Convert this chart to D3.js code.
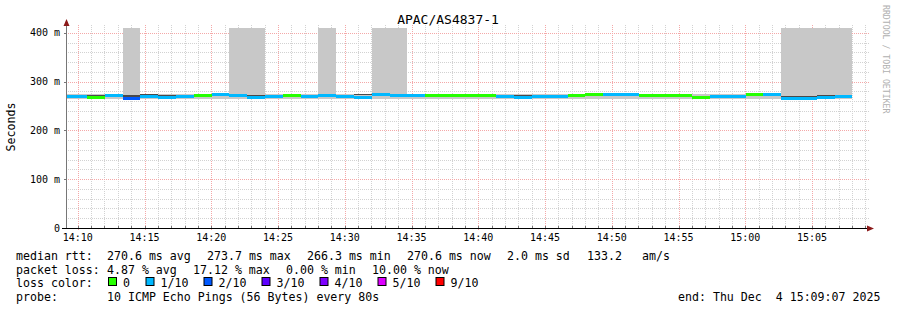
<!DOCTYPE html>
<html>
<head>
<meta charset="utf-8">
<script src="https://cdn.jsdelivr.net/npm/d3@7"></script>
<style>
  body { margin: 0; background: #fff; }
  text { font-family: "DejaVu Sans Mono", monospace; fill: #000; white-space: pre; }
</style>
</head>
<body>
<svg id="chart" width="897" height="310"></svg>
<script>
// ---- data ----
var title = "APAC/AS4837-1";
var startTime = new Date(2025, 11, 4, 14, 9, 7);
var endTime = new Date(2025, 11, 4, 15, 9, 7);
var firstStep = new Date(2025, 11, 4, 14, 9, 7);
var stepSeconds = 80;

// median rtt per 80s step (ms)
var median = [270.6, 268.2, 271.0, 266.3, 270.0, 266.6, 269.4, 272.6, 273.4, 272.4,
              268.0, 270.2, 272.6, 270.4, 271.0, 268.6, 268.0, 273.6, 272.0, 271.0,
              271.6, 271.0, 271.2, 271.6, 268.6, 268.0, 270.6, 269.0, 271.4, 273.5,
              273.6, 273.6, 272.0, 271.0, 271.0, 267.7, 270.6, 270.6, 273.0, 273.0,
              266.3, 266.5, 267.7, 270.6];
// lost pings out of 10
var loss = [1, 0, 1, 2, 1, 1, 1, 0, 1, 1,
            1, 1, 0, 1, 1, 1, 1, 1, 1, 1,
            0, 0, 0, 0, 1, 1, 1, 1, 0, 0,
            1, 1, 0, 0, 0, 0, 1, 1, 0, 1,
            1, 1, 1, 1];
// outer smoke (ms)
var smokeLo = [264, 264, 264.5, 264, 264, 264, 264.5, 265, 265, 265,
               264.5, 264.5, 265, 263.5, 265, 264.5, 264.5, 265, 265, 265,
               265, 265, 264, 265, 264.5, 264.5, 264.5, 263.5, 265, 265,
               265, 265, 265, 265, 265, 265, 265, 265, 265, 265,
               264, 264, 264, 264.5];
var smokeHi = [275, 275, 275, 420, 275, 275, 275, 275, 275.5, 420,
               420, 275, 275, 275, 420, 275, 275.5, 420, 420, 275,
               275, 275.5, 275, 275, 275, 275, 275, 275, 275, 275.5,
               275.5, 275.5, 275, 275, 275.5, 275, 275, 275, 275.5, 275.5,
               420, 420, 420, 420];
// dense inner smoke (ms)
var darkLo = [267, 271, 268, 269.5, 271.5, 271, 267, 269, 270, 269.5,
              270, 268, 269, 268, 268.5, 266, 272, 270.5, 269, 268,
              268.5, 272, 268.5, 268, 271, 270.5, 268, 266, 268.5, 270.5,
              270.5, 270.5, 269, 268, 273, 269.5, 268, 268, 270, 270,
              269, 269, 270, 268];
var darkHi = [269, 273, 270, 272, 274, 273.5, 269, 271, 272, 271,
              272, 270, 271, 271, 270, 268, 274.5, 272.5, 271, 270,
              270.5, 274.5, 270.5, 270, 273.5, 272.5, 270, 268, 270.5, 273,
              272.5, 272.5, 271, 270, 274.5, 271.5, 270, 270, 272, 272,
              271, 271, 272, 270];

var yTicks = [0, 100, 200, 300, 400];
var yTickLabels = ["0", "100 m", "200 m", "300 m", "400 m"];

var lossLevels = [0, 1, 2, 3, 4, 5, 9];
var lossLabels = ["0", "1/10", "2/10", "3/10", "4/10", "5/10", "9/10"];
var lossColors = ["#26ff00", "#00b8ff", "#0059ff", "#5e00ff", "#7e00ff", "#dd00ff", "#ff0000"];

var rttStats = [["median rtt:", 16], ["270.6 ms avg", 107], ["273.7 ms max", 207], ["266.3 ms min", 307],
                ["270.6 ms now", 407], ["2.0 ms sd", 507], ["133.2", 587], ["am/s", 642]];
var lossStats = [["packet loss:", 16], ["4.87 % avg", 107], ["17.12 % max", 193], ["0.00 % min", 286],
                 ["10.00 % now", 372]];
var probeText = "10 ICMP Echo Pings (56 Bytes) every 80s";
var endText = "end: Thu Dec  4 15:09:07 2025";

// ---- drawing ----
var svg = d3.select("#chart");
var pLeft = 66, pRight = 867, pTop = 28, pBottom = 228;

var x = d3.scaleTime().domain([startTime, endTime]).range([pLeft, pRight]);
var y = d3.scaleLinear().domain([0, 410]).range([pBottom, pTop]);

svg.append("rect").attr("width", 897).attr("height", 310).attr("fill", "#fff");

svg.append("defs").append("clipPath").attr("id", "plot")
  .append("rect").attr("x", pLeft).attr("y", pTop).attr("width", pRight - pLeft).attr("height", pBottom - pTop);

// grid
var grid = svg.append("g").attr("shape-rendering", "crispEdges");
var minutes = d3.timeMinute.every(1).range(startTime, endTime);
var fiveMin = minutes.filter(function(d){ return d.getMinutes() % 5 == 0; });
grid.selectAll(".vmin").data(minutes.filter(function(d){ return d.getMinutes() % 5 != 0; }))
  .enter().append("line")
  .attr("x1", function(d){ return Math.round(x(d)) + 0.5; })
  .attr("x2", function(d){ return Math.round(x(d)) + 0.5; })
  .attr("y1", pTop - 3).attr("y2", pBottom)
  .attr("stroke", "#d2d2d2").attr("stroke-dasharray", "1,1");
var hMinor = d3.range(20, 420, 20).filter(function(v){ return v % 100 != 0; });
grid.selectAll(".hmin").data(hMinor).enter().append("line")
  .attr("x1", pLeft).attr("x2", pRight + 2)
  .attr("y1", function(d){ return Math.round(y(d)) + 0.5; })
  .attr("y2", function(d){ return Math.round(y(d)) + 0.5; })
  .attr("stroke", "#d2d2d2").attr("stroke-dasharray", "1,1");
grid.selectAll(".vmaj").data(fiveMin)
  .enter().append("line")
  .attr("x1", function(d){ return Math.round(x(d)) + 0.5; })
  .attr("x2", function(d){ return Math.round(x(d)) + 0.5; })
  .attr("y1", pTop - 3).attr("y2", pBottom + 3)
  .attr("stroke", "#f4a8a8").attr("stroke-dasharray", "1,1");
grid.selectAll(".hmaj").data(yTicks.slice(1)).enter().append("line")
  .attr("x1", pLeft).attr("x2", pRight + 2)
  .attr("y1", function(d){ return Math.round(y(d)) + 0.5; })
  .attr("y2", function(d){ return Math.round(y(d)) + 0.5; })
  .attr("stroke", "#f4a8a8").attr("stroke-dasharray", "1,1");

// smoke + median
var steps = median.map(function(m, i){
  return {
    t0: d3.timeSecond.offset(firstStep, i * stepSeconds + 14),
    t1: d3.timeSecond.offset(firstStep, (i + 1) * stepSeconds + 14),
    median: m, loss: loss[i],
    lo: smokeLo[i], hi: smokeHi[i], dlo: darkLo[i], dhi: darkHi[i]
  };
});
// first step reaches back to the left edge
steps[0].t0 = startTime;
var data = svg.append("g").attr("clip-path", "url(#plot)").attr("shape-rendering", "crispEdges");
data.selectAll(".smoke").data(steps).enter().append("rect")
  .attr("x", function(d){ return x(d.t0); })
  .attr("width", function(d){ return x(d.t1) - x(d.t0); })
  .attr("y", function(d){ return y(d.hi); })
  .attr("height", function(d){ return y(d.lo) - y(d.hi); })
  .attr("fill", "#c8c8c8");
data.selectAll(".dark").data(steps).enter().append("rect")
  .attr("x", function(d){ return x(d.t0); })
  .attr("width", function(d){ return x(d.t1) - x(d.t0); })
  .attr("y", function(d){ return y(d.dhi); })
  .attr("height", function(d){ return y(d.dlo) - y(d.dhi); })
  .attr("fill", "#4a4a4a");
data.selectAll(".med").data(steps).enter().append("rect")
  .attr("x", function(d){ return x(d.t0); })
  .attr("width", function(d){ return x(d.t1) - x(d.t0); })
  .attr("y", function(d){ return y(d.median) - 1.5; })
  .attr("height", 3)
  .attr("fill", function(d){ return lossColors[lossLevels.indexOf(d.loss)]; });

// axes
var axes = svg.append("g").attr("shape-rendering", "crispEdges");
axes.append("line").attr("x1", pLeft + 0.5).attr("x2", pLeft + 0.5).attr("y1", pTop - 4).attr("y2", pBottom)
  .attr("stroke", "#777");
axes.selectAll(".yt").data(yTicks).enter().append("line")
  .attr("x1", function(d){ return d == 0 ? pLeft - 4 : pLeft - 2; }).attr("x2", pLeft)
  .attr("y1", function(d){ return Math.round(y(d)) + 0.5; })
  .attr("y2", function(d){ return Math.round(y(d)) + 0.5; })
  .attr("stroke", "#777");
axes.append("line").attr("x1", pLeft - 4).attr("x2", pRight + 2).attr("y1", pBottom + 0.5).attr("y2", pBottom + 0.5)
  .attr("stroke", "#000");
axes.selectAll(".xt").data(minutes).enter().append("line")
  .attr("x1", function(d){ return Math.round(x(d)) + 0.5; })
  .attr("x2", function(d){ return Math.round(x(d)) + 0.5; })
  .attr("y1", pBottom - 2).attr("y2", pBottom)
  .attr("stroke", "#777");

svg.append("path").attr("d", "M" + (pLeft + 0.5) + ",19 L" + (pLeft - 2.5) + ",26 L" + (pLeft + 3.5) + ",26 Z")
  .attr("fill", "#8b1a1a");
svg.append("path").attr("d", "M874," + (pBottom + 0.5) + " L867," + (pBottom - 2.5) + " L867," + (pBottom + 3.5) + " Z")
  .attr("fill", "#8b1a1a");

// tick labels
svg.selectAll(".ylab").data(yTicks).enter().append("text")
  .attr("x", 60).attr("y", function(d){ return y(d) + 3.5; })
  .attr("text-anchor", "end").style("font-size", "10px")
  .text(function(d, i){ return yTickLabels[i]; });
svg.selectAll(".xlab").data(fiveMin)
  .enter().append("text")
  .attr("x", function(d){ return x(d); }).attr("y", 241)
  .attr("text-anchor", "middle").style("font-size", "10px")
  .text(d3.timeFormat("%H:%M"));

// titles
svg.append("text").attr("x", 448).attr("y", 24).attr("text-anchor", "middle")
  .style("font-size", "13px").text(title);
svg.append("text").attr("transform", "translate(15,127) rotate(-90)").attr("text-anchor", "middle")
  .style("font-size", "11.6px").text("Seconds");
svg.append("text").attr("transform", "translate(883,5) rotate(90)")
  .style("font-size", "8.2px").style("fill", "#b0b0b0").text("RRDTOOL / TOBI OETIKER");

// legend
var fs = "11.6px";
var rows = [259.8, 273.5, 287.2, 301];
svg.selectAll(".r1").data(rttStats).enter().append("text")
  .attr("x", function(d){ return d[1]; }).attr("y", rows[0]).style("font-size", fs)
  .text(function(d){ return d[0]; });
svg.selectAll(".r2").data(lossStats).enter().append("text")
  .attr("x", function(d){ return d[1]; }).attr("y", rows[1]).style("font-size", fs)
  .text(function(d){ return d[0]; });
svg.append("text").attr("x", 16).attr("y", rows[2]).style("font-size", fs).text("loss color:");
var sqX = [108, 145.5, 203.5, 261.5, 319.5, 377.5, 435.5];
var lg = svg.append("g").selectAll("g").data(lossLabels).enter().append("g");
lg.append("rect")
  .attr("x", function(d, i){ return sqX[i] + 0.5; }).attr("y", 277.5)
  .attr("width", 8).attr("height", 8)
  .attr("fill", function(d, i){ return lossColors[i]; })
  .attr("stroke", "#000").attr("stroke-width", 1);
lg.append("text")
  .attr("x", function(d, i){ return sqX[i] + 15; }).attr("y", rows[2]).style("font-size", fs)
  .text(function(d){ return d; });
svg.append("text").attr("x", 16).attr("y", rows[3]).style("font-size", fs).text("probe:");
svg.append("text").attr("x", 107).attr("y", rows[3]).style("font-size", fs).text(probeText);
svg.append("text").attr("x", 678).attr("y", rows[3]).style("font-size", fs).text(endText);
</script>
</body>
</html>
